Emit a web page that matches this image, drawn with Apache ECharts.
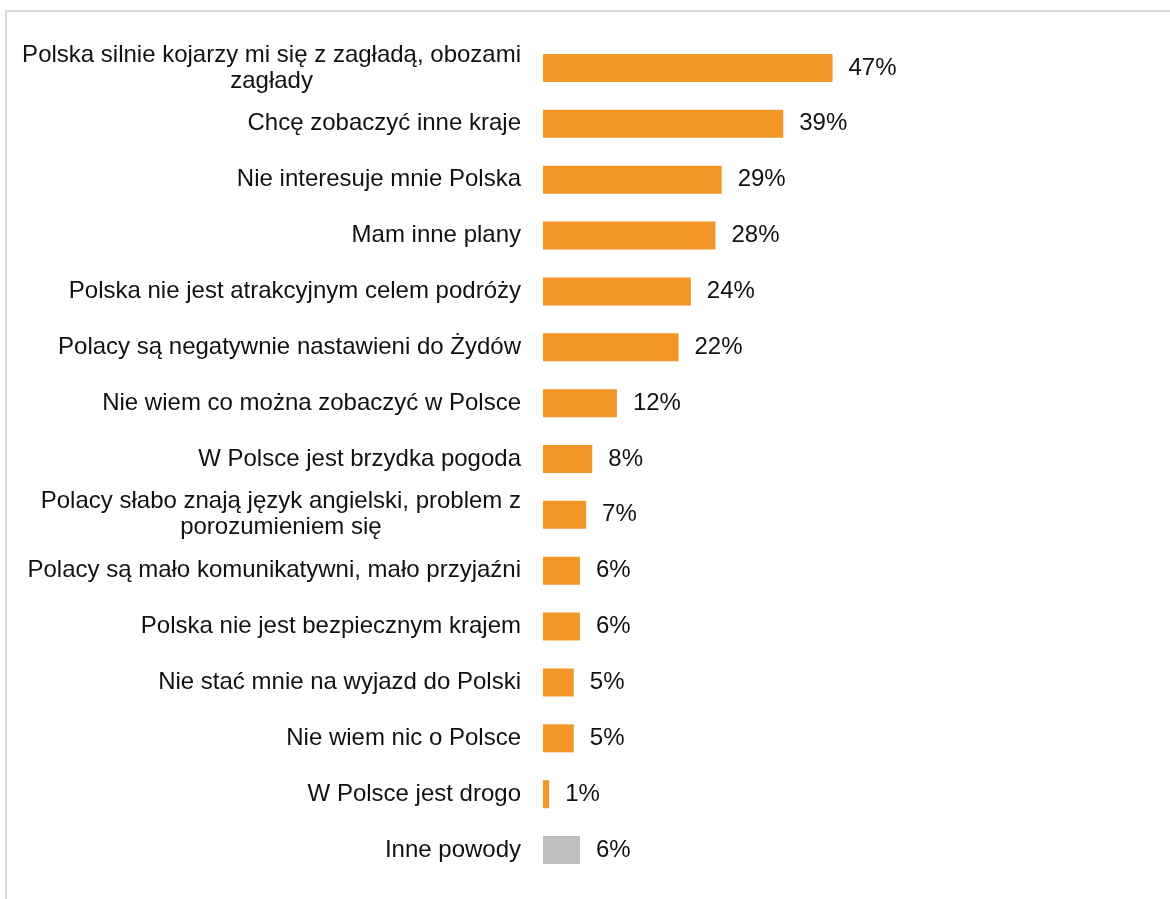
<!DOCTYPE html>
<html>
<head>
<meta charset="utf-8">
<script src="https://cdn.jsdelivr.net/npm/echarts@6/dist/echarts.min.js"></script>
<style>
  html, body { margin: 0; padding: 0; background: #ffffff; }
  #chart { width: 1170px; height: 899px; }
</style>
</head>
<body>
<div id="chart"></div>
<script>
// Powody, dla których respondenci nie planują wyjazdu do Polski (%)
const categories = [
  'Polska silnie kojarzy mi się z zagładą, obozami\nzagłady',
  'Chcę zobaczyć inne kraje',
  'Nie interesuje mnie Polska',
  'Mam inne plany',
  'Polska nie jest atrakcyjnym celem podróży',
  'Polacy są negatywnie nastawieni do Żydów',
  'Nie wiem co można zobaczyć w Polsce',
  'W Polsce jest brzydka pogoda',
  'Polacy słabo znają język angielski, problem z\nporozumieniem się',
  'Polacy są mało komunikatywni, mało przyjaźni',
  'Polska nie jest bezpiecznym krajem',
  'Nie stać mnie na wyjazd do Polski',
  'Nie wiem nic o Polsce',
  'W Polsce jest drogo',
  'Inne powody'
];
const values = [47, 39, 29, 28, 24, 22, 12, 8, 7, 6, 6, 5, 5, 1, 6];
const otherCategory = 'Inne powody';

const ORANGE = '#f39628';
const GREY = '#bfbfbf';
const FONT = '"Liberation Sans", Arial, sans-serif';

const chart = echarts.init(document.getElementById('chart'), null, { renderer: 'canvas' });

chart.setOption({
  backgroundColor: '#ffffff',
  animation: false,
  graphic: [
    { type: 'line', shape: { x1: 5, y1: 11, x2: 1170, y2: 11 },
      style: { stroke: '#d9d9d9', lineWidth: 2 } },
    { type: 'line', shape: { x1: 6, y1: 10, x2: 6, y2: 899 },
      style: { stroke: '#d9d9d9', lineWidth: 2 } }
  ],
  grid: { left: 543, top: 40, width: 616, height: 838, containLabel: false },
  xAxis: {
    type: 'value', min: 0, max: 100,
    show: false
  },
  yAxis: {
    type: 'category',
    data: categories,
    inverse: true,
    axisLine: { show: false },
    axisTick: { show: false },
    axisLabel: {
      margin: 22,
      color: '#111111',
      fontFamily: FONT,
      fontSize: 24,
      lineHeight: 26,
      align: 'right',
      // wrapped lines are centred inside the right-aligned label block
      formatter: v => v.split('\n').map(s => '{c|' + s + '}').join('\n'),
      rich: {
        c: { align: 'center', fontFamily: FONT, fontSize: 24, lineHeight: 26, color: '#111111' }
      }
    }
  },
  series: [{
    type: 'bar',
    barWidth: 28,
    data: values.map((v, i) => ({
      value: v,
      itemStyle: { color: categories[i] === otherCategory ? GREY : ORANGE }
    })),
    label: {
      show: true,
      position: 'right',
      distance: 16,
      color: '#111111',
      fontFamily: FONT,
      fontSize: 24,
      formatter: p => p.value + '%'
    }
  }]
});
</script>
</body>
</html>
